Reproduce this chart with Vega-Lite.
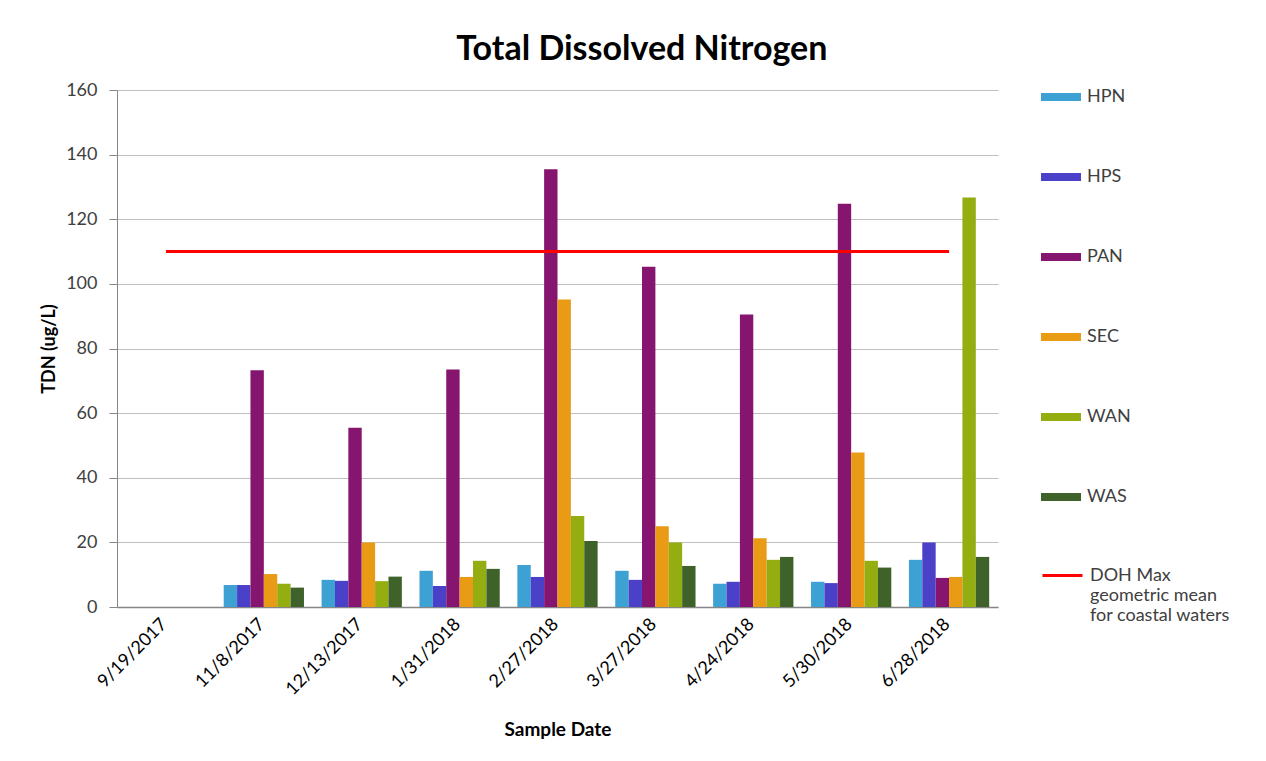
{
  "$schema": "https://vega.github.io/schema/vega-lite/v6.json",
  "width": 881,
  "height": 517,
  "autosize": "none",
  "padding": {"left": 117, "top": 90, "right": 268, "bottom": 154},
  "background": "white",
  "config": {
    "font": "Lato",
    "view": {"stroke": null},
    "axis": {"labelFont": "Lato", "titleFont": "Lato"}
  },
  "title": {
    "text": "Total Dissolved Nitrogen",
    "font": "Lato",
    "fontSize": 34,
    "fontWeight": "bold",
    "color": "#000000",
    "anchor": "middle",
    "frame": "bounds",
    "offset": 10,
    "dx": 6
  },
  "datasets": {
    "tdn": [
      {"date": "11/8/2017", "site": "HPN", "value": 6.8},
      {"date": "11/8/2017", "site": "HPS", "value": 6.8},
      {"date": "11/8/2017", "site": "PAN", "value": 73.3},
      {"date": "11/8/2017", "site": "SEC", "value": 10.2},
      {"date": "11/8/2017", "site": "WAN", "value": 7.2},
      {"date": "11/8/2017", "site": "WAS", "value": 6.0},
      {"date": "12/13/2017", "site": "HPN", "value": 8.4},
      {"date": "12/13/2017", "site": "HPS", "value": 8.1},
      {"date": "12/13/2017", "site": "PAN", "value": 55.5},
      {"date": "12/13/2017", "site": "SEC", "value": 20.0},
      {"date": "12/13/2017", "site": "WAN", "value": 8.0},
      {"date": "12/13/2017", "site": "WAS", "value": 9.4},
      {"date": "1/31/2018", "site": "HPN", "value": 11.2},
      {"date": "1/31/2018", "site": "HPS", "value": 6.5},
      {"date": "1/31/2018", "site": "PAN", "value": 73.5},
      {"date": "1/31/2018", "site": "SEC", "value": 9.3},
      {"date": "1/31/2018", "site": "WAN", "value": 14.3},
      {"date": "1/31/2018", "site": "WAS", "value": 11.8},
      {"date": "2/27/2018", "site": "HPN", "value": 13.0},
      {"date": "2/27/2018", "site": "HPS", "value": 9.3},
      {"date": "2/27/2018", "site": "PAN", "value": 135.5},
      {"date": "2/27/2018", "site": "SEC", "value": 95.2},
      {"date": "2/27/2018", "site": "WAN", "value": 28.2},
      {"date": "2/27/2018", "site": "WAS", "value": 20.4},
      {"date": "3/27/2018", "site": "HPN", "value": 11.2},
      {"date": "3/27/2018", "site": "HPS", "value": 8.4},
      {"date": "3/27/2018", "site": "PAN", "value": 105.3},
      {"date": "3/27/2018", "site": "SEC", "value": 25.0},
      {"date": "3/27/2018", "site": "WAN", "value": 20.0},
      {"date": "3/27/2018", "site": "WAS", "value": 12.7},
      {"date": "4/24/2018", "site": "HPN", "value": 7.2},
      {"date": "4/24/2018", "site": "HPS", "value": 7.8},
      {"date": "4/24/2018", "site": "PAN", "value": 90.5},
      {"date": "4/24/2018", "site": "SEC", "value": 21.3},
      {"date": "4/24/2018", "site": "WAN", "value": 14.6},
      {"date": "4/24/2018", "site": "WAS", "value": 15.5},
      {"date": "5/30/2018", "site": "HPN", "value": 7.8},
      {"date": "5/30/2018", "site": "HPS", "value": 7.4},
      {"date": "5/30/2018", "site": "PAN", "value": 124.8},
      {"date": "5/30/2018", "site": "SEC", "value": 47.8},
      {"date": "5/30/2018", "site": "WAN", "value": 14.3},
      {"date": "5/30/2018", "site": "WAS", "value": 12.2},
      {"date": "6/28/2018", "site": "HPN", "value": 14.6},
      {"date": "6/28/2018", "site": "HPS", "value": 20.0},
      {"date": "6/28/2018", "site": "PAN", "value": 9.0},
      {"date": "6/28/2018", "site": "SEC", "value": 9.3},
      {"date": "6/28/2018", "site": "WAN", "value": 126.7},
      {"date": "6/28/2018", "site": "WAS", "value": 15.5}
    ],
    "doh": [
      {"date": "9/19/2017", "series": "DOH Max geometric mean for coastal waters", "value": 110},
      {"date": "11/8/2017", "series": "DOH Max geometric mean for coastal waters", "value": 110},
      {"date": "12/13/2017", "series": "DOH Max geometric mean for coastal waters", "value": 110},
      {"date": "1/31/2018", "series": "DOH Max geometric mean for coastal waters", "value": 110},
      {"date": "2/27/2018", "series": "DOH Max geometric mean for coastal waters", "value": 110},
      {"date": "3/27/2018", "series": "DOH Max geometric mean for coastal waters", "value": 110},
      {"date": "4/24/2018", "series": "DOH Max geometric mean for coastal waters", "value": 110},
      {"date": "5/30/2018", "series": "DOH Max geometric mean for coastal waters", "value": 110},
      {"date": "6/28/2018", "series": "DOH Max geometric mean for coastal waters", "value": 110}
    ]
  },
  "encoding": {
    "x": {
      "field": "date",
      "type": "nominal",
      "scale": {
        "domain": ["9/19/2017", "11/8/2017", "12/13/2017", "1/31/2018", "2/27/2018", "3/27/2018", "4/24/2018", "5/30/2018", "6/28/2018"],
        "paddingInner": 0.18,
        "paddingOuter": 0.09
      },
      "axis": {
        "title": "Sample Date",
        "titleFontSize": 19,
        "titleFontWeight": "bold",
        "titleColor": "#000000",
        "titlePadding": 22,
        "labelAngle": -45,
        "labelFontSize": 18,
        "labelColor": "#000000",
        "labelPadding": 8,
        "labelOffset": -8,
        "ticks": false,
        "domainColor": "#868686",
        "domainWidth": 1.5,
        "grid": false
      }
    }
  },
  "layer": [
    {
      "data": {"name": "tdn"},
      "mark": {"type": "bar"},
      "encoding": {
        "y": {
          "field": "value",
          "type": "quantitative",
          "scale": {"domain": [0, 160]},
          "axis": {
            "title": "TDN (ug/L)",
            "titleFontSize": 18,
            "titleFontWeight": "bold",
            "titleColor": "#000000",
            "titlePadding": 7,
            "values": [0, 20, 40, 60, 80, 100, 120, 140, 160],
            "labelFontSize": 18,
            "labelColor": "#404040",
            "labelPadding": 12,
            "tickSize": 8,
            "tickColor": "#868686",
            "domainColor": "#868686",
            "gridColor": "#BFBFBF",
            "gridWidth": 1.2
          }
        },
        "xOffset": {
          "field": "site",
          "type": "nominal",
          "scale": {"paddingInner": 0, "paddingOuter": 0}
        },
        "fill": {
          "field": "site",
          "type": "nominal",
          "scale": {
            "domain": ["HPN", "HPS", "PAN", "SEC", "WAN", "WAS"],
            "range": ["#3DA1D3", "#4B41C9", "#861570", "#E99B16", "#94AD10", "#3E622A"]
          },
          "legend": {
            "title": null,
            "orient": "none",
            "legendX": 924,
            "legendY": -13,
            "symbolType": "M-1,-0.2H1V0.2H-1Z",
            "symbolSize": 1600,
            "symbolStrokeWidth": 0,
            "labelFontSize": 18,
            "labelColor": "#404040",
            "labelOffset": 6,
            "rowPadding": 51
          }
        }
      }
    },
    {
      "data": {"name": "doh"},
      "mark": {"type": "line", "strokeWidth": 3},
      "encoding": {
        "y": {"field": "value", "type": "quantitative"},
        "stroke": {
          "field": "series",
          "type": "nominal",
          "scale": {"range": ["#FF0000"]},
          "legend": {
            "title": null,
            "orient": "none",
            "legendX": 924,
            "legendY": 464,
            "symbolType": "stroke",
            "symbolSize": 1600,
            "symbolStrokeWidth": 3,
            "labelFontSize": 18,
            "labelLineHeight": 26,
            "labelColor": "#404040",
            "labelOffset": 6,
            "labelBaseline": "middle",
            "labelExpr": "['DOH Max', 'geometric mean', 'for coastal waters']"
          }
        }
      }
    }
  ]
}
